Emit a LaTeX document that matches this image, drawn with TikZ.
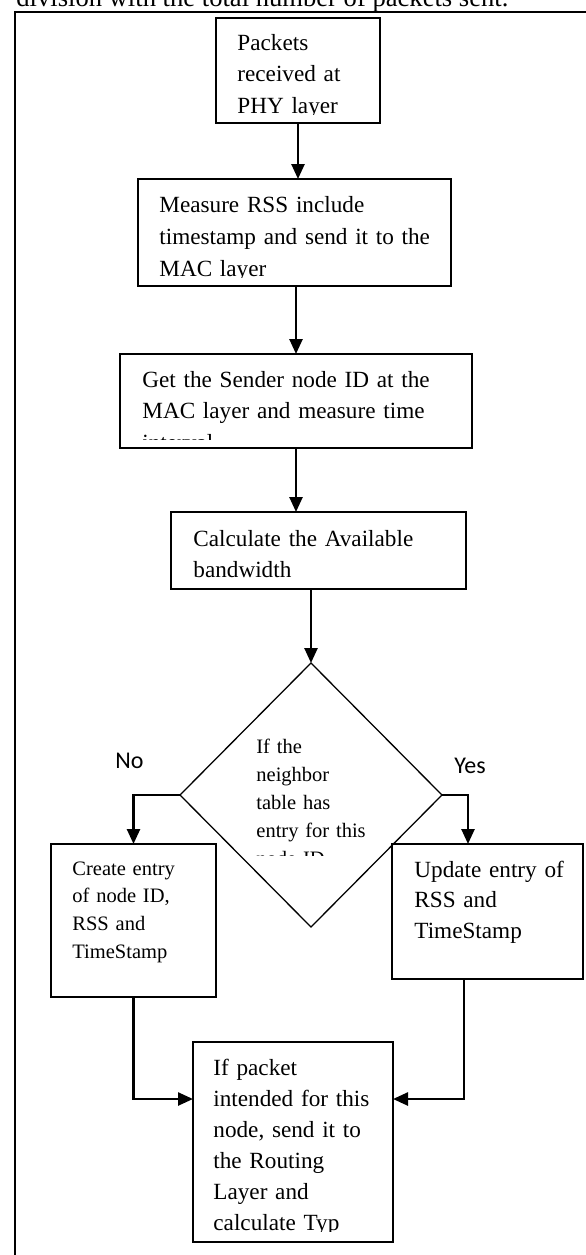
\documentclass[tikz,border=0pt]{standalone}
\usepackage{fontspec}
\setmainfont{Liberation Serif}
\newfontfamily\branchfont{Carlito}
\usetikzlibrary{arrows.meta,shapes.geometric}

\begin{document}
\begin{tikzpicture}[
  x=0.5pt, y=-0.5pt,
  >={Triangle[length=7.5pt,width=6.5pt]},
  box/.style={draw, line width=0.75pt, anchor=north west,
              inner sep=0pt, outer sep=0pt},
  decision/.style={draw, diamond, line width=0.65pt,
                   inner sep=0pt, outer sep=0pt},
  boxtext/.style={anchor=base west, inner sep=0pt, align=left,
                  text width=180pt, font=\fontsize{11.6}{15.75}\selectfont},
  smalltext/.style={boxtext, font=\fontsize{10.25}{14}\selectfont},
  branch/.style={anchor=base west, inner sep=0pt,
                 font=\branchfont\fontsize{12}{14}\selectfont},
  flow/.style={->, line width=1.25pt},
]
\useasboundingbox (0,0) rectangle (585,1255);

% --- Page text and frame ---
\node[anchor=base west, inner sep=0pt, font=\fontsize{13.3}{16}\selectfont]
  (caption) at (16,6) {division with the total number of packets sent.};
\draw[line width=0.65pt] (600,12) -- (15,12) -- (15,1270);

% --- Boxes ---
\node[box, minimum width=82pt,   minimum height=52.5pt] (pkt)    at (216,18)  {};
\node[box, minimum width=156.5pt, minimum height=53.5pt] (rss)    at (138,179) {};
\node[box, minimum width=176pt,  minimum height=47pt]   (sender) at (120,354) {};
\node[box, minimum width=147.5pt, minimum height=38.5pt] (bw)     at (171,512) {};
\node[decision, minimum width=131pt, minimum height=132pt] (dia)  at (311,795) {};
\node[box, minimum width=82.5pt, minimum height=76.5pt] (create) at (51,844)  {};
\node[box, minimum width=95.5pt, minimum height=67.5pt] (update) at (392,844) {};
\node[box, minimum width=100pt,  minimum height=100pt]  (final)  at (193,1042) {};

% --- Box texts (cut at the bottom of each text frame) ---
\begin{scope}
  \clip (217,19) rectangle (379,114);
  \node[boxtext] (pkttext) at (237,50) {Packets\\received at\\PHY layer};
\end{scope}
\begin{scope}
  \clip (139,180) rectangle (450,277);
  \node[boxtext, font=\fontsize{11.6}{16}\selectfont] (rsstext) at (159,212)
    {Measure RSS include\\timestamp and send it to the\\MAC layer};
\end{scope}
\begin{scope}
  \clip (121,355) rectangle (471,439);
  \node[boxtext, font=\fontsize{11.6}{15.8}\selectfont] (sendertext) at (142,387)
    {Get the Sender node ID at the\\MAC layer and measure time\\interval};
\end{scope}
\node[boxtext, font=\fontsize{11.6}{15.5}\selectfont] (bwtext) at (193,546)
  {Calculate the Available\\bandwidth};
\begin{scope}
  \clip (250,735) rectangle (390,855);
  \node[smalltext] (diatext) at (256,753)
    {If the\\neighbor\\table has\\entry for this\\node ID};
\end{scope}
\node[smalltext, font=\fontsize{10.25}{13.85}\selectfont] (createtext) at (72,875)
  {Create entry\\of node ID,\\RSS and\\TimeStamp};
\node[boxtext, font=\fontsize{11.6}{15.25}\selectfont] (updatetext) at (414,877)
  {Update entry of\\RSS and\\TimeStamp};
\begin{scope}
  \clip (194,1043) rectangle (392,1231.5);
  \node[boxtext, font=\fontsize{11.6}{15.5}\selectfont] (finaltext) at (213,1075)
    {If packet\\intended for this\\node, send it to\\the Routing\\Layer and\\calculate Typ};
\end{scope}

% --- Branch labels ---
\node[branch] (nolabel)  at (115,768) {No};
\node[branch] (yeslabel) at (454,773) {Yes};

% --- Connectors ---
\draw[flow] (pkt.south) -- (pkt.south |- rss.north);
\draw[flow] (sender.north |- rss.south) -- (sender.north);
\draw[flow] (sender.south) -- (sender.south |- bw.north);
\draw[flow] (dia.north |- bw.south) -- (dia.north);
\draw[flow] (dia.west) -| (create.north);
\draw[flow] (dia.east) -| ([xshift=-9.75pt]update.north);
\draw[flow] (create.south) |- ([yshift=21.5pt]final.west);
\draw[flow] ([xshift=-11.75pt]update.south) |- ([yshift=21.5pt]final.east);
\end{tikzpicture}
\end{document}
